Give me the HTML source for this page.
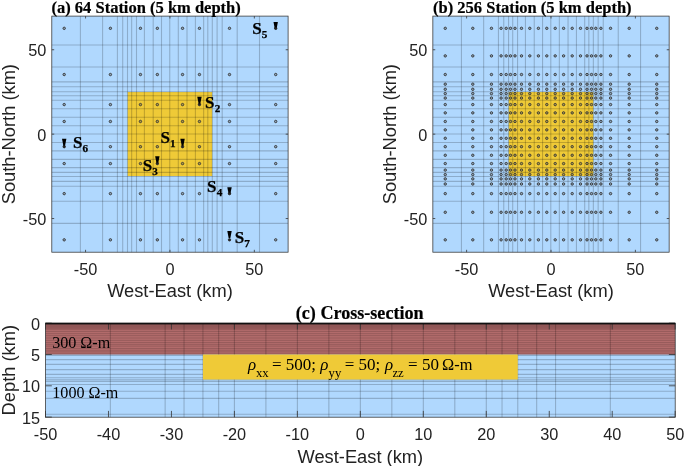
<!DOCTYPE html>
<html><head><meta charset="utf-8"><style>
html,body{margin:0;padding:0;background:#fff;overflow:hidden}
svg{display:block;will-change:transform}
text{fill:#000}
.s16{font:16.3px "Liberation Sans",sans-serif;fill:#222}
.s18{font:18.3px "Liberation Sans",sans-serif;fill:#222}
.tb{font:bold 16.5px "Liberation Serif",serif;stroke:#000;stroke-width:0.2px}
.stb{font:bold 17px "Liberation Serif",serif;stroke:#000;stroke-width:0.25px}
.sub{font-size:11.2px}
.r16{font:16.1px "Liberation Serif",serif}
.rho{font-style:italic}
.sub2{font:12.7px "Liberation Serif",serif}
.r17{font:17px "Liberation Serif",serif}
</style></head>
<body><svg width="685" height="466" viewBox="0 0 685 466">
<rect width="685" height="466" fill="#fff"/>
<rect x="51.8" y="16.1" width="236.3" height="236.1" fill="#b0d8fe"/>
<rect x="127.7" y="92.05" width="84.5" height="84.0" fill="#efca37"/>
<path d="M80.4 16.1V252.2M102.6 16.1V252.2M117.4 16.1V252.2M122.7 16.1V252.2M127.5 16.1V252.2M131.65 16.1V252.2M136.5 16.1V252.2M144.4 16.1V252.2M153.2 16.1V252.2M161.5 16.1V252.2M169.75 16.1V252.2M178.3 16.1V252.2M187 16.1V252.2M195.4 16.1V252.2M203.65 16.1V252.2M207.8 16.1V252.2M212.3 16.1V252.2M217.1 16.1V252.2M222.2 16.1V252.2M237.2 16.1V252.2M259.5 16.1V252.2" stroke="rgba(0,0,0,0.2)" stroke-width="1.1" fill="none"/>
<path d="M51.8 45.04H288.1M51.8 66.95H288.1M51.8 81.9H288.1M51.8 86.8H288.1M51.8 91.7H288.1M51.8 95.8H288.1M51.8 100.3H288.1M51.8 108.8H288.1M51.8 117.3H288.1M51.8 125.7H288.1M51.8 134H288.1M51.8 142.55H288.1M51.8 150.9H288.1M51.8 159.4H288.1M51.8 167.65H288.1M51.8 172.4H288.1M51.8 176.5H288.1M51.8 181.4H288.1M51.8 186.3H288.1M51.8 201.3H288.1M51.8 223.4H288.1" stroke="rgba(0,0,0,0.2)" stroke-width="1.1" fill="none"/>
<g fill="rgba(60,60,60,0.3)" stroke="#3c3c3c" stroke-width="1"><circle cx="64.2" cy="28.33" r="1.2"/><circle cx="64.2" cy="74.53" r="1.2"/><circle cx="64.2" cy="104.58" r="1.2"/><circle cx="64.2" cy="121.48" r="1.2"/><circle cx="64.2" cy="146.68" r="1.2"/><circle cx="64.2" cy="163.58" r="1.2"/><circle cx="64.2" cy="193.63" r="1.2"/><circle cx="64.2" cy="239.83" r="1.2"/><circle cx="110.4" cy="28.33" r="1.2"/><circle cx="110.4" cy="74.53" r="1.2"/><circle cx="110.4" cy="104.58" r="1.2"/><circle cx="110.4" cy="121.48" r="1.2"/><circle cx="110.4" cy="146.68" r="1.2"/><circle cx="110.4" cy="163.58" r="1.2"/><circle cx="110.4" cy="193.63" r="1.2"/><circle cx="110.4" cy="239.83" r="1.2"/><circle cx="140.45" cy="28.33" r="1.2"/><circle cx="140.45" cy="74.53" r="1.2"/><circle cx="140.45" cy="104.58" r="1.2"/><circle cx="140.45" cy="121.48" r="1.2"/><circle cx="140.45" cy="146.68" r="1.2"/><circle cx="140.45" cy="163.58" r="1.2"/><circle cx="140.45" cy="193.63" r="1.2"/><circle cx="140.45" cy="239.83" r="1.2"/><circle cx="157.35" cy="28.33" r="1.2"/><circle cx="157.35" cy="74.53" r="1.2"/><circle cx="157.35" cy="104.58" r="1.2"/><circle cx="157.35" cy="121.48" r="1.2"/><circle cx="157.35" cy="146.68" r="1.2"/><circle cx="157.35" cy="163.58" r="1.2"/><circle cx="157.35" cy="193.63" r="1.2"/><circle cx="157.35" cy="239.83" r="1.2"/><circle cx="182.55" cy="28.33" r="1.2"/><circle cx="182.55" cy="74.53" r="1.2"/><circle cx="182.55" cy="104.58" r="1.2"/><circle cx="182.55" cy="121.48" r="1.2"/><circle cx="182.55" cy="146.68" r="1.2"/><circle cx="182.55" cy="163.58" r="1.2"/><circle cx="182.55" cy="193.63" r="1.2"/><circle cx="182.55" cy="239.83" r="1.2"/><circle cx="199.45" cy="28.33" r="1.2"/><circle cx="199.45" cy="74.53" r="1.2"/><circle cx="199.45" cy="104.58" r="1.2"/><circle cx="199.45" cy="121.48" r="1.2"/><circle cx="199.45" cy="146.68" r="1.2"/><circle cx="199.45" cy="163.58" r="1.2"/><circle cx="199.45" cy="193.63" r="1.2"/><circle cx="199.45" cy="239.83" r="1.2"/><circle cx="229.5" cy="28.33" r="1.2"/><circle cx="229.5" cy="74.53" r="1.2"/><circle cx="229.5" cy="104.58" r="1.2"/><circle cx="229.5" cy="121.48" r="1.2"/><circle cx="229.5" cy="146.68" r="1.2"/><circle cx="229.5" cy="163.58" r="1.2"/><circle cx="229.5" cy="193.63" r="1.2"/><circle cx="229.5" cy="239.83" r="1.2"/><circle cx="275.7" cy="28.33" r="1.2"/><circle cx="275.7" cy="74.53" r="1.2"/><circle cx="275.7" cy="104.58" r="1.2"/><circle cx="275.7" cy="121.48" r="1.2"/><circle cx="275.7" cy="146.68" r="1.2"/><circle cx="275.7" cy="163.58" r="1.2"/><circle cx="275.7" cy="193.63" r="1.2"/><circle cx="275.7" cy="239.83" r="1.2"/></g>
<path d="M85.56 252.2v-2.4M85.56 16.1v2.4M51.8 218.54h2.4M288.1 218.54h-2.4M169.95 252.2v-2.4M169.95 16.1v2.4M51.8 134.15h2.4M288.1 134.15h-2.4M254.34 252.2v-2.4M254.34 16.1v2.4M51.8 49.76h2.4M288.1 49.76h-2.4" stroke="#333" stroke-width="0.8" fill="none"/>
<rect x="51.8" y="16.1" width="236.3" height="236.1" fill="none" stroke="#333" stroke-width="0.75"/>
<text x="85.56" y="274.5" class="s16" text-anchor="middle">-50</text>
<text x="46.3" y="225.24" class="s16" text-anchor="end">-50</text>
<text x="169.95" y="274.5" class="s16" text-anchor="middle">0</text>
<text x="46.3" y="140.85" class="s16" text-anchor="end">0</text>
<text x="254.34" y="274.5" class="s16" text-anchor="middle">50</text>
<text x="46.3" y="56.46" class="s16" text-anchor="end">50</text>
<text x="169.95" y="296.9" class="s18" text-anchor="middle">West-East (km)</text>
<text transform="translate(15.4 134.15) rotate(-90)" class="s18" text-anchor="middle">South-North (km)</text>
<text x="51.48" y="12.5" class="tb">(a) 64 Station (5 km depth)</text>
<rect x="432.85" y="16.1" width="236.3" height="236.1" fill="#b0d8fe"/>
<rect x="508.75" y="92.05" width="84.5" height="84.0" fill="#efca37"/>
<path d="M461.45 16.1V252.2M483.65 16.1V252.2M498.45 16.1V252.2M503.75 16.1V252.2M508.55 16.1V252.2M512.7 16.1V252.2M517.55 16.1V252.2M525.45 16.1V252.2M534.25 16.1V252.2M542.55 16.1V252.2M550.8 16.1V252.2M559.35 16.1V252.2M568.05 16.1V252.2M576.45 16.1V252.2M584.7 16.1V252.2M588.85 16.1V252.2M593.35 16.1V252.2M598.15 16.1V252.2M603.25 16.1V252.2M618.25 16.1V252.2M640.55 16.1V252.2" stroke="rgba(0,0,0,0.2)" stroke-width="1.1" fill="none"/>
<path d="M432.85 45.04H669.15M432.85 66.95H669.15M432.85 81.9H669.15M432.85 86.8H669.15M432.85 91.7H669.15M432.85 95.8H669.15M432.85 100.3H669.15M432.85 108.8H669.15M432.85 117.3H669.15M432.85 125.7H669.15M432.85 134H669.15M432.85 142.55H669.15M432.85 150.9H669.15M432.85 159.4H669.15M432.85 167.65H669.15M432.85 172.4H669.15M432.85 176.5H669.15M432.85 181.4H669.15M432.85 186.3H669.15M432.85 201.3H669.15M432.85 223.4H669.15" stroke="rgba(0,0,0,0.2)" stroke-width="1.1" fill="none"/>
<g fill="rgba(60,60,60,0.3)" stroke="#3c3c3c" stroke-width="1"><circle cx="445.25" cy="28.33" r="1.2"/><circle cx="445.25" cy="55.88" r="1.2"/><circle cx="445.25" cy="74.53" r="1.2"/><circle cx="445.25" cy="84.18" r="1.2"/><circle cx="445.25" cy="89.28" r="1.2"/><circle cx="445.25" cy="93.58" r="1.2"/><circle cx="445.25" cy="98.08" r="1.2"/><circle cx="445.25" cy="104.58" r="1.2"/><circle cx="445.25" cy="112.88" r="1.2"/><circle cx="445.25" cy="121.48" r="1.2"/><circle cx="445.25" cy="129.88" r="1.2"/><circle cx="445.25" cy="138.28" r="1.2"/><circle cx="445.25" cy="146.68" r="1.2"/><circle cx="445.25" cy="155.28" r="1.2"/><circle cx="445.25" cy="163.58" r="1.2"/><circle cx="445.25" cy="170.08" r="1.2"/><circle cx="445.25" cy="174.58" r="1.2"/><circle cx="445.25" cy="178.88" r="1.2"/><circle cx="445.25" cy="183.98" r="1.2"/><circle cx="445.25" cy="193.63" r="1.2"/><circle cx="445.25" cy="212.28" r="1.2"/><circle cx="445.25" cy="239.83" r="1.2"/><circle cx="472.8" cy="28.33" r="1.2"/><circle cx="472.8" cy="55.88" r="1.2"/><circle cx="472.8" cy="74.53" r="1.2"/><circle cx="472.8" cy="84.18" r="1.2"/><circle cx="472.8" cy="89.28" r="1.2"/><circle cx="472.8" cy="93.58" r="1.2"/><circle cx="472.8" cy="98.08" r="1.2"/><circle cx="472.8" cy="104.58" r="1.2"/><circle cx="472.8" cy="112.88" r="1.2"/><circle cx="472.8" cy="121.48" r="1.2"/><circle cx="472.8" cy="129.88" r="1.2"/><circle cx="472.8" cy="138.28" r="1.2"/><circle cx="472.8" cy="146.68" r="1.2"/><circle cx="472.8" cy="155.28" r="1.2"/><circle cx="472.8" cy="163.58" r="1.2"/><circle cx="472.8" cy="170.08" r="1.2"/><circle cx="472.8" cy="174.58" r="1.2"/><circle cx="472.8" cy="178.88" r="1.2"/><circle cx="472.8" cy="183.98" r="1.2"/><circle cx="472.8" cy="193.63" r="1.2"/><circle cx="472.8" cy="212.28" r="1.2"/><circle cx="472.8" cy="239.83" r="1.2"/><circle cx="491.45" cy="28.33" r="1.2"/><circle cx="491.45" cy="55.88" r="1.2"/><circle cx="491.45" cy="74.53" r="1.2"/><circle cx="491.45" cy="84.18" r="1.2"/><circle cx="491.45" cy="89.28" r="1.2"/><circle cx="491.45" cy="93.58" r="1.2"/><circle cx="491.45" cy="98.08" r="1.2"/><circle cx="491.45" cy="104.58" r="1.2"/><circle cx="491.45" cy="112.88" r="1.2"/><circle cx="491.45" cy="121.48" r="1.2"/><circle cx="491.45" cy="129.88" r="1.2"/><circle cx="491.45" cy="138.28" r="1.2"/><circle cx="491.45" cy="146.68" r="1.2"/><circle cx="491.45" cy="155.28" r="1.2"/><circle cx="491.45" cy="163.58" r="1.2"/><circle cx="491.45" cy="170.08" r="1.2"/><circle cx="491.45" cy="174.58" r="1.2"/><circle cx="491.45" cy="178.88" r="1.2"/><circle cx="491.45" cy="183.98" r="1.2"/><circle cx="491.45" cy="193.63" r="1.2"/><circle cx="491.45" cy="212.28" r="1.2"/><circle cx="491.45" cy="239.83" r="1.2"/><circle cx="501.1" cy="28.33" r="1.2"/><circle cx="501.1" cy="55.88" r="1.2"/><circle cx="501.1" cy="74.53" r="1.2"/><circle cx="501.1" cy="84.18" r="1.2"/><circle cx="501.1" cy="89.28" r="1.2"/><circle cx="501.1" cy="93.58" r="1.2"/><circle cx="501.1" cy="98.08" r="1.2"/><circle cx="501.1" cy="104.58" r="1.2"/><circle cx="501.1" cy="112.88" r="1.2"/><circle cx="501.1" cy="121.48" r="1.2"/><circle cx="501.1" cy="129.88" r="1.2"/><circle cx="501.1" cy="138.28" r="1.2"/><circle cx="501.1" cy="146.68" r="1.2"/><circle cx="501.1" cy="155.28" r="1.2"/><circle cx="501.1" cy="163.58" r="1.2"/><circle cx="501.1" cy="170.08" r="1.2"/><circle cx="501.1" cy="174.58" r="1.2"/><circle cx="501.1" cy="178.88" r="1.2"/><circle cx="501.1" cy="183.98" r="1.2"/><circle cx="501.1" cy="193.63" r="1.2"/><circle cx="501.1" cy="212.28" r="1.2"/><circle cx="501.1" cy="239.83" r="1.2"/><circle cx="506.2" cy="28.33" r="1.2"/><circle cx="506.2" cy="55.88" r="1.2"/><circle cx="506.2" cy="74.53" r="1.2"/><circle cx="506.2" cy="84.18" r="1.2"/><circle cx="506.2" cy="89.28" r="1.2"/><circle cx="506.2" cy="93.58" r="1.2"/><circle cx="506.2" cy="98.08" r="1.2"/><circle cx="506.2" cy="104.58" r="1.2"/><circle cx="506.2" cy="112.88" r="1.2"/><circle cx="506.2" cy="121.48" r="1.2"/><circle cx="506.2" cy="129.88" r="1.2"/><circle cx="506.2" cy="138.28" r="1.2"/><circle cx="506.2" cy="146.68" r="1.2"/><circle cx="506.2" cy="155.28" r="1.2"/><circle cx="506.2" cy="163.58" r="1.2"/><circle cx="506.2" cy="170.08" r="1.2"/><circle cx="506.2" cy="174.58" r="1.2"/><circle cx="506.2" cy="178.88" r="1.2"/><circle cx="506.2" cy="183.98" r="1.2"/><circle cx="506.2" cy="193.63" r="1.2"/><circle cx="506.2" cy="212.28" r="1.2"/><circle cx="506.2" cy="239.83" r="1.2"/><circle cx="510.5" cy="28.33" r="1.2"/><circle cx="510.5" cy="55.88" r="1.2"/><circle cx="510.5" cy="74.53" r="1.2"/><circle cx="510.5" cy="84.18" r="1.2"/><circle cx="510.5" cy="89.28" r="1.2"/><circle cx="510.5" cy="93.58" r="1.2"/><circle cx="510.5" cy="98.08" r="1.2"/><circle cx="510.5" cy="104.58" r="1.2"/><circle cx="510.5" cy="112.88" r="1.2"/><circle cx="510.5" cy="121.48" r="1.2"/><circle cx="510.5" cy="129.88" r="1.2"/><circle cx="510.5" cy="138.28" r="1.2"/><circle cx="510.5" cy="146.68" r="1.2"/><circle cx="510.5" cy="155.28" r="1.2"/><circle cx="510.5" cy="163.58" r="1.2"/><circle cx="510.5" cy="170.08" r="1.2"/><circle cx="510.5" cy="174.58" r="1.2"/><circle cx="510.5" cy="178.88" r="1.2"/><circle cx="510.5" cy="183.98" r="1.2"/><circle cx="510.5" cy="193.63" r="1.2"/><circle cx="510.5" cy="212.28" r="1.2"/><circle cx="510.5" cy="239.83" r="1.2"/><circle cx="515" cy="28.33" r="1.2"/><circle cx="515" cy="55.88" r="1.2"/><circle cx="515" cy="74.53" r="1.2"/><circle cx="515" cy="84.18" r="1.2"/><circle cx="515" cy="89.28" r="1.2"/><circle cx="515" cy="93.58" r="1.2"/><circle cx="515" cy="98.08" r="1.2"/><circle cx="515" cy="104.58" r="1.2"/><circle cx="515" cy="112.88" r="1.2"/><circle cx="515" cy="121.48" r="1.2"/><circle cx="515" cy="129.88" r="1.2"/><circle cx="515" cy="138.28" r="1.2"/><circle cx="515" cy="146.68" r="1.2"/><circle cx="515" cy="155.28" r="1.2"/><circle cx="515" cy="163.58" r="1.2"/><circle cx="515" cy="170.08" r="1.2"/><circle cx="515" cy="174.58" r="1.2"/><circle cx="515" cy="178.88" r="1.2"/><circle cx="515" cy="183.98" r="1.2"/><circle cx="515" cy="193.63" r="1.2"/><circle cx="515" cy="212.28" r="1.2"/><circle cx="515" cy="239.83" r="1.2"/><circle cx="521.5" cy="28.33" r="1.2"/><circle cx="521.5" cy="55.88" r="1.2"/><circle cx="521.5" cy="74.53" r="1.2"/><circle cx="521.5" cy="84.18" r="1.2"/><circle cx="521.5" cy="89.28" r="1.2"/><circle cx="521.5" cy="93.58" r="1.2"/><circle cx="521.5" cy="98.08" r="1.2"/><circle cx="521.5" cy="104.58" r="1.2"/><circle cx="521.5" cy="112.88" r="1.2"/><circle cx="521.5" cy="121.48" r="1.2"/><circle cx="521.5" cy="129.88" r="1.2"/><circle cx="521.5" cy="138.28" r="1.2"/><circle cx="521.5" cy="146.68" r="1.2"/><circle cx="521.5" cy="155.28" r="1.2"/><circle cx="521.5" cy="163.58" r="1.2"/><circle cx="521.5" cy="170.08" r="1.2"/><circle cx="521.5" cy="174.58" r="1.2"/><circle cx="521.5" cy="178.88" r="1.2"/><circle cx="521.5" cy="183.98" r="1.2"/><circle cx="521.5" cy="193.63" r="1.2"/><circle cx="521.5" cy="212.28" r="1.2"/><circle cx="521.5" cy="239.83" r="1.2"/><circle cx="529.8" cy="28.33" r="1.2"/><circle cx="529.8" cy="55.88" r="1.2"/><circle cx="529.8" cy="74.53" r="1.2"/><circle cx="529.8" cy="84.18" r="1.2"/><circle cx="529.8" cy="89.28" r="1.2"/><circle cx="529.8" cy="93.58" r="1.2"/><circle cx="529.8" cy="98.08" r="1.2"/><circle cx="529.8" cy="104.58" r="1.2"/><circle cx="529.8" cy="112.88" r="1.2"/><circle cx="529.8" cy="121.48" r="1.2"/><circle cx="529.8" cy="129.88" r="1.2"/><circle cx="529.8" cy="138.28" r="1.2"/><circle cx="529.8" cy="146.68" r="1.2"/><circle cx="529.8" cy="155.28" r="1.2"/><circle cx="529.8" cy="163.58" r="1.2"/><circle cx="529.8" cy="170.08" r="1.2"/><circle cx="529.8" cy="174.58" r="1.2"/><circle cx="529.8" cy="178.88" r="1.2"/><circle cx="529.8" cy="183.98" r="1.2"/><circle cx="529.8" cy="193.63" r="1.2"/><circle cx="529.8" cy="212.28" r="1.2"/><circle cx="529.8" cy="239.83" r="1.2"/><circle cx="538.4" cy="28.33" r="1.2"/><circle cx="538.4" cy="55.88" r="1.2"/><circle cx="538.4" cy="74.53" r="1.2"/><circle cx="538.4" cy="84.18" r="1.2"/><circle cx="538.4" cy="89.28" r="1.2"/><circle cx="538.4" cy="93.58" r="1.2"/><circle cx="538.4" cy="98.08" r="1.2"/><circle cx="538.4" cy="104.58" r="1.2"/><circle cx="538.4" cy="112.88" r="1.2"/><circle cx="538.4" cy="121.48" r="1.2"/><circle cx="538.4" cy="129.88" r="1.2"/><circle cx="538.4" cy="138.28" r="1.2"/><circle cx="538.4" cy="146.68" r="1.2"/><circle cx="538.4" cy="155.28" r="1.2"/><circle cx="538.4" cy="163.58" r="1.2"/><circle cx="538.4" cy="170.08" r="1.2"/><circle cx="538.4" cy="174.58" r="1.2"/><circle cx="538.4" cy="178.88" r="1.2"/><circle cx="538.4" cy="183.98" r="1.2"/><circle cx="538.4" cy="193.63" r="1.2"/><circle cx="538.4" cy="212.28" r="1.2"/><circle cx="538.4" cy="239.83" r="1.2"/><circle cx="546.8" cy="28.33" r="1.2"/><circle cx="546.8" cy="55.88" r="1.2"/><circle cx="546.8" cy="74.53" r="1.2"/><circle cx="546.8" cy="84.18" r="1.2"/><circle cx="546.8" cy="89.28" r="1.2"/><circle cx="546.8" cy="93.58" r="1.2"/><circle cx="546.8" cy="98.08" r="1.2"/><circle cx="546.8" cy="104.58" r="1.2"/><circle cx="546.8" cy="112.88" r="1.2"/><circle cx="546.8" cy="121.48" r="1.2"/><circle cx="546.8" cy="129.88" r="1.2"/><circle cx="546.8" cy="138.28" r="1.2"/><circle cx="546.8" cy="146.68" r="1.2"/><circle cx="546.8" cy="155.28" r="1.2"/><circle cx="546.8" cy="163.58" r="1.2"/><circle cx="546.8" cy="170.08" r="1.2"/><circle cx="546.8" cy="174.58" r="1.2"/><circle cx="546.8" cy="178.88" r="1.2"/><circle cx="546.8" cy="183.98" r="1.2"/><circle cx="546.8" cy="193.63" r="1.2"/><circle cx="546.8" cy="212.28" r="1.2"/><circle cx="546.8" cy="239.83" r="1.2"/><circle cx="555.2" cy="28.33" r="1.2"/><circle cx="555.2" cy="55.88" r="1.2"/><circle cx="555.2" cy="74.53" r="1.2"/><circle cx="555.2" cy="84.18" r="1.2"/><circle cx="555.2" cy="89.28" r="1.2"/><circle cx="555.2" cy="93.58" r="1.2"/><circle cx="555.2" cy="98.08" r="1.2"/><circle cx="555.2" cy="104.58" r="1.2"/><circle cx="555.2" cy="112.88" r="1.2"/><circle cx="555.2" cy="121.48" r="1.2"/><circle cx="555.2" cy="129.88" r="1.2"/><circle cx="555.2" cy="138.28" r="1.2"/><circle cx="555.2" cy="146.68" r="1.2"/><circle cx="555.2" cy="155.28" r="1.2"/><circle cx="555.2" cy="163.58" r="1.2"/><circle cx="555.2" cy="170.08" r="1.2"/><circle cx="555.2" cy="174.58" r="1.2"/><circle cx="555.2" cy="178.88" r="1.2"/><circle cx="555.2" cy="183.98" r="1.2"/><circle cx="555.2" cy="193.63" r="1.2"/><circle cx="555.2" cy="212.28" r="1.2"/><circle cx="555.2" cy="239.83" r="1.2"/><circle cx="563.6" cy="28.33" r="1.2"/><circle cx="563.6" cy="55.88" r="1.2"/><circle cx="563.6" cy="74.53" r="1.2"/><circle cx="563.6" cy="84.18" r="1.2"/><circle cx="563.6" cy="89.28" r="1.2"/><circle cx="563.6" cy="93.58" r="1.2"/><circle cx="563.6" cy="98.08" r="1.2"/><circle cx="563.6" cy="104.58" r="1.2"/><circle cx="563.6" cy="112.88" r="1.2"/><circle cx="563.6" cy="121.48" r="1.2"/><circle cx="563.6" cy="129.88" r="1.2"/><circle cx="563.6" cy="138.28" r="1.2"/><circle cx="563.6" cy="146.68" r="1.2"/><circle cx="563.6" cy="155.28" r="1.2"/><circle cx="563.6" cy="163.58" r="1.2"/><circle cx="563.6" cy="170.08" r="1.2"/><circle cx="563.6" cy="174.58" r="1.2"/><circle cx="563.6" cy="178.88" r="1.2"/><circle cx="563.6" cy="183.98" r="1.2"/><circle cx="563.6" cy="193.63" r="1.2"/><circle cx="563.6" cy="212.28" r="1.2"/><circle cx="563.6" cy="239.83" r="1.2"/><circle cx="572.2" cy="28.33" r="1.2"/><circle cx="572.2" cy="55.88" r="1.2"/><circle cx="572.2" cy="74.53" r="1.2"/><circle cx="572.2" cy="84.18" r="1.2"/><circle cx="572.2" cy="89.28" r="1.2"/><circle cx="572.2" cy="93.58" r="1.2"/><circle cx="572.2" cy="98.08" r="1.2"/><circle cx="572.2" cy="104.58" r="1.2"/><circle cx="572.2" cy="112.88" r="1.2"/><circle cx="572.2" cy="121.48" r="1.2"/><circle cx="572.2" cy="129.88" r="1.2"/><circle cx="572.2" cy="138.28" r="1.2"/><circle cx="572.2" cy="146.68" r="1.2"/><circle cx="572.2" cy="155.28" r="1.2"/><circle cx="572.2" cy="163.58" r="1.2"/><circle cx="572.2" cy="170.08" r="1.2"/><circle cx="572.2" cy="174.58" r="1.2"/><circle cx="572.2" cy="178.88" r="1.2"/><circle cx="572.2" cy="183.98" r="1.2"/><circle cx="572.2" cy="193.63" r="1.2"/><circle cx="572.2" cy="212.28" r="1.2"/><circle cx="572.2" cy="239.83" r="1.2"/><circle cx="580.5" cy="28.33" r="1.2"/><circle cx="580.5" cy="55.88" r="1.2"/><circle cx="580.5" cy="74.53" r="1.2"/><circle cx="580.5" cy="84.18" r="1.2"/><circle cx="580.5" cy="89.28" r="1.2"/><circle cx="580.5" cy="93.58" r="1.2"/><circle cx="580.5" cy="98.08" r="1.2"/><circle cx="580.5" cy="104.58" r="1.2"/><circle cx="580.5" cy="112.88" r="1.2"/><circle cx="580.5" cy="121.48" r="1.2"/><circle cx="580.5" cy="129.88" r="1.2"/><circle cx="580.5" cy="138.28" r="1.2"/><circle cx="580.5" cy="146.68" r="1.2"/><circle cx="580.5" cy="155.28" r="1.2"/><circle cx="580.5" cy="163.58" r="1.2"/><circle cx="580.5" cy="170.08" r="1.2"/><circle cx="580.5" cy="174.58" r="1.2"/><circle cx="580.5" cy="178.88" r="1.2"/><circle cx="580.5" cy="183.98" r="1.2"/><circle cx="580.5" cy="193.63" r="1.2"/><circle cx="580.5" cy="212.28" r="1.2"/><circle cx="580.5" cy="239.83" r="1.2"/><circle cx="587" cy="28.33" r="1.2"/><circle cx="587" cy="55.88" r="1.2"/><circle cx="587" cy="74.53" r="1.2"/><circle cx="587" cy="84.18" r="1.2"/><circle cx="587" cy="89.28" r="1.2"/><circle cx="587" cy="93.58" r="1.2"/><circle cx="587" cy="98.08" r="1.2"/><circle cx="587" cy="104.58" r="1.2"/><circle cx="587" cy="112.88" r="1.2"/><circle cx="587" cy="121.48" r="1.2"/><circle cx="587" cy="129.88" r="1.2"/><circle cx="587" cy="138.28" r="1.2"/><circle cx="587" cy="146.68" r="1.2"/><circle cx="587" cy="155.28" r="1.2"/><circle cx="587" cy="163.58" r="1.2"/><circle cx="587" cy="170.08" r="1.2"/><circle cx="587" cy="174.58" r="1.2"/><circle cx="587" cy="178.88" r="1.2"/><circle cx="587" cy="183.98" r="1.2"/><circle cx="587" cy="193.63" r="1.2"/><circle cx="587" cy="212.28" r="1.2"/><circle cx="587" cy="239.83" r="1.2"/><circle cx="591.5" cy="28.33" r="1.2"/><circle cx="591.5" cy="55.88" r="1.2"/><circle cx="591.5" cy="74.53" r="1.2"/><circle cx="591.5" cy="84.18" r="1.2"/><circle cx="591.5" cy="89.28" r="1.2"/><circle cx="591.5" cy="93.58" r="1.2"/><circle cx="591.5" cy="98.08" r="1.2"/><circle cx="591.5" cy="104.58" r="1.2"/><circle cx="591.5" cy="112.88" r="1.2"/><circle cx="591.5" cy="121.48" r="1.2"/><circle cx="591.5" cy="129.88" r="1.2"/><circle cx="591.5" cy="138.28" r="1.2"/><circle cx="591.5" cy="146.68" r="1.2"/><circle cx="591.5" cy="155.28" r="1.2"/><circle cx="591.5" cy="163.58" r="1.2"/><circle cx="591.5" cy="170.08" r="1.2"/><circle cx="591.5" cy="174.58" r="1.2"/><circle cx="591.5" cy="178.88" r="1.2"/><circle cx="591.5" cy="183.98" r="1.2"/><circle cx="591.5" cy="193.63" r="1.2"/><circle cx="591.5" cy="212.28" r="1.2"/><circle cx="591.5" cy="239.83" r="1.2"/><circle cx="595.8" cy="28.33" r="1.2"/><circle cx="595.8" cy="55.88" r="1.2"/><circle cx="595.8" cy="74.53" r="1.2"/><circle cx="595.8" cy="84.18" r="1.2"/><circle cx="595.8" cy="89.28" r="1.2"/><circle cx="595.8" cy="93.58" r="1.2"/><circle cx="595.8" cy="98.08" r="1.2"/><circle cx="595.8" cy="104.58" r="1.2"/><circle cx="595.8" cy="112.88" r="1.2"/><circle cx="595.8" cy="121.48" r="1.2"/><circle cx="595.8" cy="129.88" r="1.2"/><circle cx="595.8" cy="138.28" r="1.2"/><circle cx="595.8" cy="146.68" r="1.2"/><circle cx="595.8" cy="155.28" r="1.2"/><circle cx="595.8" cy="163.58" r="1.2"/><circle cx="595.8" cy="170.08" r="1.2"/><circle cx="595.8" cy="174.58" r="1.2"/><circle cx="595.8" cy="178.88" r="1.2"/><circle cx="595.8" cy="183.98" r="1.2"/><circle cx="595.8" cy="193.63" r="1.2"/><circle cx="595.8" cy="212.28" r="1.2"/><circle cx="595.8" cy="239.83" r="1.2"/><circle cx="600.9" cy="28.33" r="1.2"/><circle cx="600.9" cy="55.88" r="1.2"/><circle cx="600.9" cy="74.53" r="1.2"/><circle cx="600.9" cy="84.18" r="1.2"/><circle cx="600.9" cy="89.28" r="1.2"/><circle cx="600.9" cy="93.58" r="1.2"/><circle cx="600.9" cy="98.08" r="1.2"/><circle cx="600.9" cy="104.58" r="1.2"/><circle cx="600.9" cy="112.88" r="1.2"/><circle cx="600.9" cy="121.48" r="1.2"/><circle cx="600.9" cy="129.88" r="1.2"/><circle cx="600.9" cy="138.28" r="1.2"/><circle cx="600.9" cy="146.68" r="1.2"/><circle cx="600.9" cy="155.28" r="1.2"/><circle cx="600.9" cy="163.58" r="1.2"/><circle cx="600.9" cy="170.08" r="1.2"/><circle cx="600.9" cy="174.58" r="1.2"/><circle cx="600.9" cy="178.88" r="1.2"/><circle cx="600.9" cy="183.98" r="1.2"/><circle cx="600.9" cy="193.63" r="1.2"/><circle cx="600.9" cy="212.28" r="1.2"/><circle cx="600.9" cy="239.83" r="1.2"/><circle cx="610.55" cy="28.33" r="1.2"/><circle cx="610.55" cy="55.88" r="1.2"/><circle cx="610.55" cy="74.53" r="1.2"/><circle cx="610.55" cy="84.18" r="1.2"/><circle cx="610.55" cy="89.28" r="1.2"/><circle cx="610.55" cy="93.58" r="1.2"/><circle cx="610.55" cy="98.08" r="1.2"/><circle cx="610.55" cy="104.58" r="1.2"/><circle cx="610.55" cy="112.88" r="1.2"/><circle cx="610.55" cy="121.48" r="1.2"/><circle cx="610.55" cy="129.88" r="1.2"/><circle cx="610.55" cy="138.28" r="1.2"/><circle cx="610.55" cy="146.68" r="1.2"/><circle cx="610.55" cy="155.28" r="1.2"/><circle cx="610.55" cy="163.58" r="1.2"/><circle cx="610.55" cy="170.08" r="1.2"/><circle cx="610.55" cy="174.58" r="1.2"/><circle cx="610.55" cy="178.88" r="1.2"/><circle cx="610.55" cy="183.98" r="1.2"/><circle cx="610.55" cy="193.63" r="1.2"/><circle cx="610.55" cy="212.28" r="1.2"/><circle cx="610.55" cy="239.83" r="1.2"/><circle cx="629.2" cy="28.33" r="1.2"/><circle cx="629.2" cy="55.88" r="1.2"/><circle cx="629.2" cy="74.53" r="1.2"/><circle cx="629.2" cy="84.18" r="1.2"/><circle cx="629.2" cy="89.28" r="1.2"/><circle cx="629.2" cy="93.58" r="1.2"/><circle cx="629.2" cy="98.08" r="1.2"/><circle cx="629.2" cy="104.58" r="1.2"/><circle cx="629.2" cy="112.88" r="1.2"/><circle cx="629.2" cy="121.48" r="1.2"/><circle cx="629.2" cy="129.88" r="1.2"/><circle cx="629.2" cy="138.28" r="1.2"/><circle cx="629.2" cy="146.68" r="1.2"/><circle cx="629.2" cy="155.28" r="1.2"/><circle cx="629.2" cy="163.58" r="1.2"/><circle cx="629.2" cy="170.08" r="1.2"/><circle cx="629.2" cy="174.58" r="1.2"/><circle cx="629.2" cy="178.88" r="1.2"/><circle cx="629.2" cy="183.98" r="1.2"/><circle cx="629.2" cy="193.63" r="1.2"/><circle cx="629.2" cy="212.28" r="1.2"/><circle cx="629.2" cy="239.83" r="1.2"/><circle cx="656.75" cy="28.33" r="1.2"/><circle cx="656.75" cy="55.88" r="1.2"/><circle cx="656.75" cy="74.53" r="1.2"/><circle cx="656.75" cy="84.18" r="1.2"/><circle cx="656.75" cy="89.28" r="1.2"/><circle cx="656.75" cy="93.58" r="1.2"/><circle cx="656.75" cy="98.08" r="1.2"/><circle cx="656.75" cy="104.58" r="1.2"/><circle cx="656.75" cy="112.88" r="1.2"/><circle cx="656.75" cy="121.48" r="1.2"/><circle cx="656.75" cy="129.88" r="1.2"/><circle cx="656.75" cy="138.28" r="1.2"/><circle cx="656.75" cy="146.68" r="1.2"/><circle cx="656.75" cy="155.28" r="1.2"/><circle cx="656.75" cy="163.58" r="1.2"/><circle cx="656.75" cy="170.08" r="1.2"/><circle cx="656.75" cy="174.58" r="1.2"/><circle cx="656.75" cy="178.88" r="1.2"/><circle cx="656.75" cy="183.98" r="1.2"/><circle cx="656.75" cy="193.63" r="1.2"/><circle cx="656.75" cy="212.28" r="1.2"/><circle cx="656.75" cy="239.83" r="1.2"/></g>
<path d="M466.61 252.2v-2.4M466.61 16.1v2.4M432.85 218.54h2.4M669.15 218.54h-2.4M551 252.2v-2.4M551 16.1v2.4M432.85 134.15h2.4M669.15 134.15h-2.4M635.39 252.2v-2.4M635.39 16.1v2.4M432.85 49.76h2.4M669.15 49.76h-2.4" stroke="#333" stroke-width="0.8" fill="none"/>
<rect x="432.85" y="16.1" width="236.3" height="236.1" fill="none" stroke="#333" stroke-width="0.75"/>
<text x="466.61" y="274.5" class="s16" text-anchor="middle">-50</text>
<text x="427.35" y="225.24" class="s16" text-anchor="end">-50</text>
<text x="551" y="274.5" class="s16" text-anchor="middle">0</text>
<text x="427.35" y="140.85" class="s16" text-anchor="end">0</text>
<text x="635.39" y="274.5" class="s16" text-anchor="middle">50</text>
<text x="427.35" y="56.46" class="s16" text-anchor="end">50</text>
<text x="551" y="296.9" class="s18" text-anchor="middle">West-East (km)</text>
<text transform="translate(396.45 134.15) rotate(-90)" class="s18" text-anchor="middle">South-North (km)</text>
<text x="433.08" y="12.5" class="tb">(b) 256 Station (5 km depth)</text>
<path d="M180.35 138.83H184.75L183.35 146.03L181.75 146.03Z" fill="#000"/><circle cx="182.55" cy="146.68" r="1.2" fill="#222"/>
<text x="160.4" y="142.9" class="stb">S<tspan class="sub" dx="0.2" dy="4">1</tspan></text>
<path d="M197.25 96.68H201.65L200.25 103.88L198.65 103.88Z" fill="#000"/><circle cx="199.45" cy="104.58" r="1.2" fill="#222"/>
<text x="205.1" y="107.8" class="stb">S<tspan class="sub" dx="0.2" dy="4">2</tspan></text>
<path d="M155.15 156.33H159.55L158.15 163.53L156.55 163.53Z" fill="#000"/><circle cx="157.35" cy="163.58" r="1.2" fill="#222"/>
<text x="142.7" y="171.3" class="stb">S<tspan class="sub" dx="0.2" dy="4">3</tspan></text>
<path d="M227.3 187.13H231.7L230.3 194.33L228.7 194.33Z" fill="#000"/><circle cx="229.5" cy="193.63" r="1.2" fill="#222"/>
<text x="207" y="192.4" class="stb">S<tspan class="sub" dx="0.2" dy="4">4</tspan></text>
<path d="M273.5 22.08H277.9L276.5 29.28L274.9 29.28Z" fill="#000"/><circle cx="275.7" cy="28.33" r="1.2" fill="#222"/>
<text x="252.2" y="34" class="stb">S<tspan class="sub" dx="0.2" dy="4">5</tspan></text>
<path d="M62 138.73H66.4L65 145.93L63.4 145.93Z" fill="#000"/><circle cx="64.2" cy="146.68" r="1.2" fill="#222"/>
<text x="72.9" y="147.8" class="stb">S<tspan class="sub" dx="0.2" dy="4">6</tspan></text>
<path d="M227.3 231.03H231.7L230.3 238.23L228.7 238.23Z" fill="#000"/><circle cx="229.5" cy="239.83" r="1.2" fill="#222"/>
<text x="234.7" y="243.2" class="stb">S<tspan class="sub" dx="0.2" dy="4">7</tspan></text>
<rect x="45.5" y="323.2" width="629.7" height="94" fill="#b0d8fe"/>
<rect x="45.5" y="323.2" width="629.7" height="31.3" fill="#b56d6d"/>
<path d="M45.5 325H675.2M45.5 325.8H675.2M45.5 326.6H675.2M45.5 327.5H675.2M45.5 328.5H675.2M45.5 329.7H675.2M45.5 331.6H675.2M45.5 333.7H675.2M45.5 335.7H675.2M45.5 338H675.2M45.5 340.3H675.2M45.5 342.4H675.2M45.5 344.3H675.2M45.5 346.1H675.2M45.5 348.4H675.2M45.5 350.2H675.2M45.5 351.9H675.2M45.5 353.8H675.2" stroke="rgba(0,0,0,0.2)" stroke-width="0.9" fill="none"/>
<path d="M45.5 355.4H675.2M45.5 359.6H675.2M45.5 364.4H675.2M45.5 369.6H675.2M45.5 374.4H675.2M45.5 377.7H675.2M45.5 379.8H675.2M45.5 381.4H675.2M45.5 384.5H675.2M45.5 391.2H675.2M45.5 398.4H675.2M45.5 414.2H675.2" stroke="rgba(0,0,0,0.2)" stroke-width="1.1" fill="none"/>
<path d="M110.36 323.2V417.2M165.14 323.2V417.2M184.03 323.2V417.2M202.93 323.2V417.2M218.67 323.2V417.2M234.41 323.2V417.2M265.9 323.2V417.2M297.38 323.2V417.2M328.87 323.2V417.2M360.35 323.2V417.2M391.84 323.2V417.2M423.32 323.2V417.2M454.81 323.2V417.2M486.29 323.2V417.2M502.03 323.2V417.2M517.77 323.2V417.2M536.67 323.2V417.2M555.56 323.2V417.2M610.34 323.2V417.2" stroke="rgba(0,0,0,0.2)" stroke-width="1.1" fill="none"/>
<rect x="202.93" y="354.5" width="314.85" height="25.04" fill="#efca37"/>
<text x="442.05" y="369.6" class="r17" style="font-size:16.4px">Ω-m</text>
<path d="M45.5 417.2v-6.3M45.5 323.2v6.3M108.47 417.2v-6.3M108.47 323.2v6.3M171.44 417.2v-6.3M171.44 323.2v6.3M234.41 417.2v-6.3M234.41 323.2v6.3M297.38 417.2v-6.3M297.38 323.2v6.3M360.35 417.2v-6.3M360.35 323.2v6.3M423.32 417.2v-6.3M423.32 323.2v6.3M486.29 417.2v-6.3M486.29 323.2v6.3M549.26 417.2v-6.3M549.26 323.2v6.3M612.23 417.2v-6.3M612.23 323.2v6.3M675.2 417.2v-6.3M675.2 323.2v6.3M45.5 323.2h6.3M675.2 323.2h-6.3M45.5 354.5h6.3M675.2 354.5h-6.3M45.5 385.8h6.3M675.2 385.8h-6.3M45.5 417.1h6.3M675.2 417.1h-6.3" stroke="#333" stroke-width="0.8" fill="none"/>
<rect x="45.5" y="323.2" width="629.7" height="94" fill="none" stroke="#333" stroke-width="0.75"/>
<path d="M45.5 323.55H675.2" stroke="#111" stroke-width="1.7"/>
<text x="45.5" y="440" class="s16" text-anchor="middle">-50</text>
<text x="108.47" y="440" class="s16" text-anchor="middle">-40</text>
<text x="171.44" y="440" class="s16" text-anchor="middle">-30</text>
<text x="234.41" y="440" class="s16" text-anchor="middle">-20</text>
<text x="297.38" y="440" class="s16" text-anchor="middle">-10</text>
<text x="360.35" y="440" class="s16" text-anchor="middle">0</text>
<text x="423.32" y="440" class="s16" text-anchor="middle">10</text>
<text x="486.29" y="440" class="s16" text-anchor="middle">20</text>
<text x="549.26" y="440" class="s16" text-anchor="middle">30</text>
<text x="612.23" y="440" class="s16" text-anchor="middle">40</text>
<text x="675.2" y="440" class="s16" text-anchor="middle">50</text>
<text x="40" y="329.8" class="s16" text-anchor="end">0</text>
<text x="40" y="361.1" class="s16" text-anchor="end">5</text>
<text x="40" y="392.4" class="s16" text-anchor="end">10</text>
<text x="40" y="423.7" class="s16" text-anchor="end">15</text>
<text x="360.35" y="462.6" class="s18" text-anchor="middle">West-East (km)</text>
<text transform="translate(15.4 370.2) rotate(-90)" class="s18" text-anchor="middle">Depth (km)</text>
<text x="295.8" y="319.4" class="tb" style="font-size:18.1px">(c) Cross-section</text>
<text x="52.2" y="347.8" class="r16">300 Ω-m</text>
<text x="52.3" y="398" class="r16">1000 Ω-m</text>
<text x="247.93" y="369.6" class="r17" font-style="italic" style="font-style:italic">ρ</text><text x="255.89" y="377.4" class="sub2">xx</text><text x="271.95" y="369.6" class="r17">= 500;</text>
<text x="320.33" y="369.6" class="r17" font-style="italic" style="font-style:italic">ρ</text><text x="328.54" y="377.4" class="sub2">yy</text><text x="344.75" y="369.6" class="r17">= 50;</text>
<text x="384.93" y="369.6" class="r17" font-style="italic" style="font-style:italic">ρ</text><text x="392.46" y="377.4" class="sub2">zz</text><text x="408.05" y="369.6" class="r17">= 50</text>
</svg></body></html>
